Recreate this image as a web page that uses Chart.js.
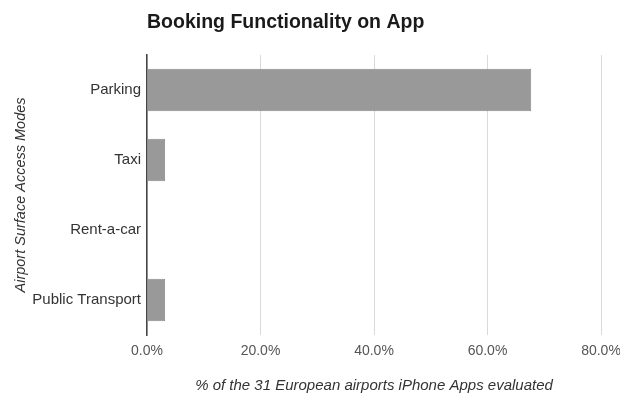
<!DOCTYPE html>
<html>
<head>
<meta charset="utf-8">
<script src="https://cdn.jsdelivr.net/npm/chart.js@4/dist/chart.umd.min.js"></script>
<style>
  html, body { margin: 0; padding: 0; background: #fff; }
  #wrap { width: 620px; height: 398px; }
</style>
</head>
<body>
<div id="wrap"><canvas id="c" width="620" height="398"></canvas></div>
<script>
// Share of the 31 evaluated airport iPhone apps offering booking, per access mode
const modes = ['Parking', 'Taxi', 'Rent-a-car', 'Public Transport'];
const bookingShare = [67.7, 3.2, 0, 3.2];
const xTicks = [0, 20, 40, 60, 80];

new Chart(document.getElementById('c'), {
  type: 'bar',
  data: {
    labels: modes,
    datasets: [{
      data: bookingShare,
      backgroundColor: '#999999',
      borderColor: '#8a8a8a',
      borderWidth: 1,
      categoryPercentage: 0.61,
      barPercentage: 1.0
    }]
  },
  options: {
    indexAxis: 'y',
    responsive: false,
    animation: false,
    layout: { padding: { left: 0, right: 19, top: 0, bottom: 0 } },
    plugins: {
      legend: { display: false },
      tooltip: { enabled: false },
      title: {
        display: true,
        text: 'Booking Functionality on App',
        align: 'start',
        color: '#1a1a1a',
        font: { family: 'Liberation Sans', size: 19.5, weight: 'bold' },
        padding: { top: 11, bottom: 20.6 }
      }
    },
    scales: {
      x: {
        min: 0,
        max: 80,
        afterBuildTicks: (s) => { s.ticks = xTicks.map(v => ({ value: v })); },
        afterFit: (s) => { s.height = 63; s.paddingLeft = 0; s.paddingRight = 0; },
        ticks: {
          callback: (v) => Number(v).toFixed(1) + '%',
          color: '#555',
          font: { family: 'Liberation Sans', size: 14 },
          padding: 8,
          maxRotation: 0
        },
        grid: { color: '#d9d9d9', drawTicks: false },
        border: { display: false },
        title: {
          display: true,
          text: '% of the 31 European airports iPhone Apps evaluated',
          color: '#333',
          font: { family: 'Liberation Sans', size: 15, style: 'italic' },
          padding: { top: 4, bottom: 3 }
        }
      },
      y: {
        afterFit: (s) => { s.width = 147; },
        ticks: {
          color: '#333',
          font: { family: 'Liberation Sans', size: 15 },
          padding: 6
        },
        grid: { display: false, drawTicks: false },
        border: { display: true, color: '#444', width: 1.5 },
        title: {
          display: true,
          text: 'Airport Surface Access Modes',
          color: '#333',
          font: { family: 'Liberation Sans', size: 14.5, style: 'italic' },
          padding: { top: 12, bottom: 4 }
        }
      }
    }
  },
  plugins: [{
    id: 'titleIndent',
    beforeDraw(chart) {
      // start the title at the plot's left edge
      const t = chart.titleBlock;
      if (t) { t.left = chart.chartArea.left; }
    }
  }]
});
</script>
</body>
</html>
